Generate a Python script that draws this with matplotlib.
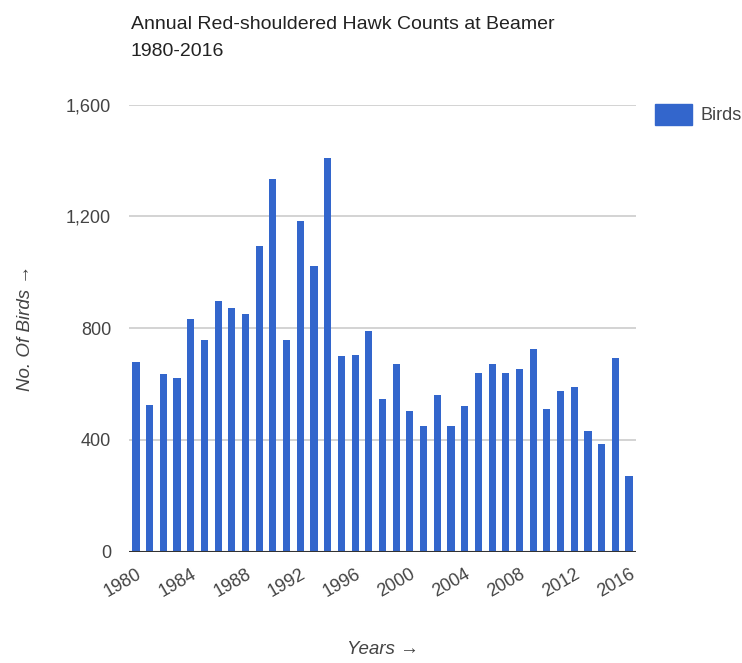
import matplotlib.pyplot as plt
from matplotlib.patches import Patch

years = list(range(1980, 2017))
birds = [680, 525, 635, 621, 832, 758, 898, 872, 851, 1093,
         1334, 758, 1182, 1021, 1411, 699, 704, 790, 548, 672,
         504, 451, 562, 451, 523, 641, 672, 641, 653, 726,
         510, 576, 589, 432, 386, 693, 269]
y_ticks = [0, 400, 800, 1200, 1600]
y_tick_labels = ["0", "400", "800", "1,200", "1,600"]
x_tick_years = list(range(1980, 2017, 4))

bar_color = "#3366cc"
text_gray = "#444444"
plt.rcParams["font.family"] = ["Liberation Sans", "DejaVu Sans"]

fig = plt.figure(figsize=(7.42, 6.63), dpi=100)
ax = fig.add_axes([0.174, 0.168, 0.683, 0.674])

pos = list(range(len(years)))
ax.bar(pos, birds, width=0.52, color=bar_color, zorder=3)

ax.set_xlim(-0.5, len(years) - 0.5)
ax.set_ylim(0, 1600)
ax.set_yticks(y_ticks)
ax.set_yticklabels(y_tick_labels)
ax.grid(axis="y", color="#cccccc", linewidth=1.2, zorder=0)
ax.axhline(0, color="#333333", linewidth=1.5, zorder=4)

ax.set_xticks([years.index(y) for y in x_tick_years])
ax.set_xticklabels([str(y) for y in x_tick_years], rotation=30, ha="right",
                   rotation_mode="anchor")
ax.tick_params(axis="both", length=0, labelsize=13, colors=text_gray)
ax.tick_params(axis="x", pad=10)
ax.tick_params(axis="y", pad=13)

for s in ax.spines.values():
    s.set_visible(False)

ax.set_xlabel("Years \u2192", fontsize=13.5, style="italic", color=text_gray,
              labelpad=29)
ax.set_ylabel("No. Of Birds \u2192", fontsize=13.5, style="italic",
              color=text_gray, labelpad=23)

# two-line title, left aligned with the plot area
fig.text(131 / 742, 1 - 16 / 663,
         "Annual Red-shouldered Hawk Counts at Beamer\n1980-2016",
         fontsize=14, color="#222222", ha="left", va="top",
         linespacing=1.8)

fig.legend(handles=[Patch(color=bar_color, label="Birds")],
           loc="upper left", bbox_to_anchor=(655 / 742, 1 - 104 / 663),
           frameon=False, fontsize=13, handlelength=2.05, handleheight=1.4,
           labelcolor=text_gray, handletextpad=0.45, borderpad=0,
           borderaxespad=0)

fig.savefig("out.png", dpi=100, facecolor="white")
